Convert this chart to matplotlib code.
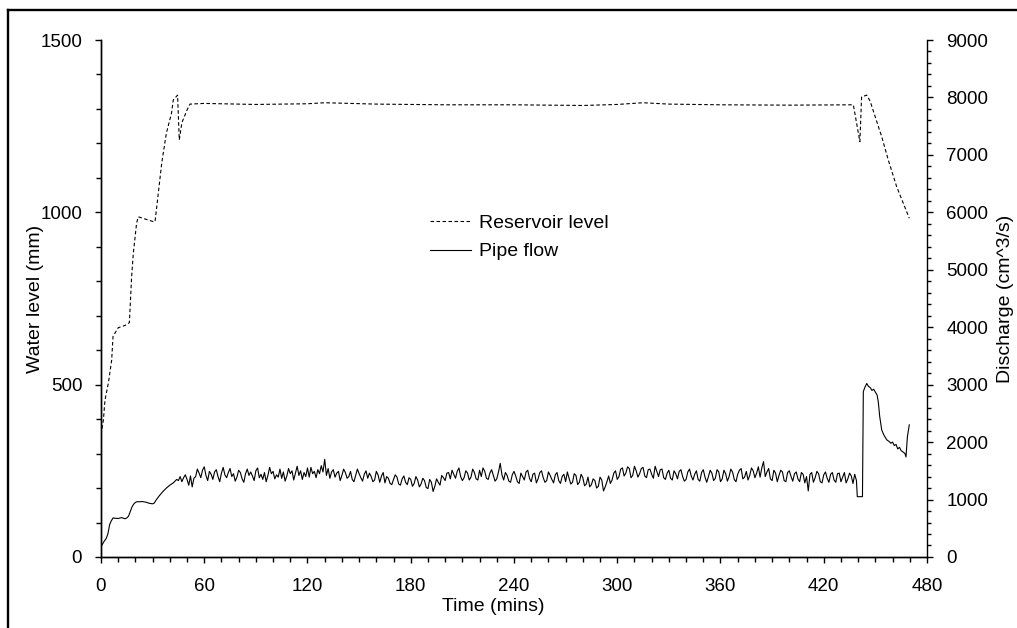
import matplotlib
matplotlib.use("Agg")
import matplotlib.pyplot as plt
from matplotlib.lines import Line2D
from matplotlib.ticker import MultipleLocator
import numpy as np

plt.rcParams['font.family'] = ['Liberation Sans', 'DejaVu Sans']
plt.rcParams['font.size'] = 13.5

# reservoir level (mm), left axis
res_t = [0, 1.4, 2.3, 4.3, 6.2, 7.0, 10, 14, 16.5, 17.8, 18.8, 20.7, 21.7, 26, 30.4,
         31.4, 32.4, 35.3, 38, 41, 42, 44.5, 45.5, 47, 50, 51.7, 60, 90, 120, 130,
         160, 200, 240, 280, 300, 315, 330, 360, 400, 437.2, 441, 442, 445, 447,
         453.7, 457.5, 462.4, 469.7]
res_level = [355, 397, 455, 505, 571, 640, 665, 672, 680, 813, 882, 969, 987, 980, 973,
             973, 1016, 1143, 1230, 1288, 1326, 1340, 1210, 1260, 1297, 1314, 1316, 1313, 1315, 1318,
             1314, 1312, 1312, 1310, 1313, 1318, 1314, 1312, 1311, 1312, 1205, 1335, 1340, 1322,
             1219, 1152, 1074, 983]

# pipe flow (cm^3/s), right axis - filling stage
fill_t = [0, 1, 2, 3, 4, 5, 6, 7, 8, 10, 12, 14, 15, 16, 17, 18, 19, 20, 21, 22, 24, 26,
          28, 30, 31, 32, 34, 36, 38, 40, 42, 43, 44]
fill_q = [180, 230, 280, 320, 400, 560, 630, 680, 675, 670, 685, 665, 680, 710, 790, 870,
          920, 950, 963, 960, 965, 955, 935, 925, 940, 990, 1070, 1140, 1200, 1250, 1290, 1320, 1350]

# pipe flow, steady stage, one reading per minute from t = 45 to 439
steady_t = np.arange(45, 440)
steady_q = [
    1330, 1400, 1310, 1380, 1430, 1350, 1250, 1410, 1220, 1370,
    1400, 1530, 1460, 1380, 1510, 1570, 1420, 1330, 1490, 1440,
    1350, 1480, 1520, 1400, 1310, 1460, 1560, 1430, 1380, 1470,
    1540, 1400, 1450, 1320, 1390, 1510, 1470, 1360, 1300, 1450,
    1530, 1420, 1480, 1410, 1330, 1500, 1550, 1380, 1440, 1350,
    1470, 1310, 1420, 1560, 1450, 1490, 1360, 1430, 1390, 1530,
    1370, 1480, 1320, 1410, 1540, 1450, 1500, 1340, 1460, 1580,
    1420, 1500, 1350, 1470, 1400, 1550, 1390, 1560, 1450, 1490,
    1380, 1520, 1450, 1590, 1480, 1700, 1420, 1540, 1370, 1480,
    1520, 1390, 1460, 1490, 1330, 1420, 1530, 1470, 1370, 1400,
    1490, 1350, 1310, 1420, 1530, 1450, 1380, 1320, 1440, 1500,
    1370, 1460, 1400, 1310, 1340, 1490, 1430, 1300, 1410, 1470,
    1290, 1400, 1370, 1280, 1260, 1350, 1430, 1390, 1270, 1250,
    1360, 1410, 1300, 1260, 1380, 1350, 1230, 1280, 1400, 1340,
    1220, 1270, 1370, 1330, 1210, 1190, 1350, 1300, 1140, 1230,
    1360, 1300, 1250, 1420, 1380, 1330, 1460, 1470, 1360, 1510,
    1440, 1370, 1490, 1550, 1400, 1330, 1380, 1500, 1460, 1340,
    1390, 1530, 1470, 1360, 1340, 1510, 1400, 1550, 1490, 1370,
    1350, 1460, 1520, 1420, 1320, 1360, 1480, 1630, 1430, 1340,
    1470, 1420, 1320, 1300, 1430, 1490, 1410, 1310, 1280, 1460,
    1400, 1340, 1480, 1510, 1370, 1310, 1440, 1460, 1290, 1360,
    1470, 1500, 1380, 1300, 1330, 1480, 1420, 1350, 1290, 1430,
    1470, 1330, 1280, 1400, 1440, 1310, 1480, 1370, 1270, 1300,
    1450, 1420, 1260, 1300, 1440, 1380, 1240, 1270, 1390, 1220,
    1260, 1360, 1330, 1200, 1230, 1390, 1340, 1150, 1220, 1310,
    1410, 1280, 1340, 1460, 1500, 1350, 1400, 1530, 1550, 1410,
    1460, 1570, 1540, 1380, 1420, 1580, 1500, 1390, 1450, 1540,
    1560, 1410, 1380, 1520, 1530, 1440, 1370, 1580, 1490, 1400,
    1520, 1530, 1380, 1350, 1460, 1510, 1370, 1340, 1500, 1450,
    1360, 1490, 1520, 1400, 1320, 1350, 1480, 1530, 1410, 1340,
    1440, 1500, 1350, 1320, 1470, 1520, 1390, 1300, 1400, 1510,
    1460, 1330, 1370, 1520, 1480, 1310, 1360, 1510, 1450, 1320,
    1400, 1530, 1480, 1350, 1310, 1440, 1510, 1540, 1360, 1390,
    1490, 1340, 1420, 1550, 1500, 1380, 1460, 1570, 1390, 1550,
    1660, 1400, 1480, 1540, 1360, 1330, 1510, 1460, 1310, 1420,
    1510, 1480, 1330, 1310, 1470, 1500, 1400, 1320, 1450, 1480,
    1360, 1310, 1470, 1440, 1290, 1400, 1150, 1440, 1470, 1300,
    1380, 1490, 1450, 1310, 1290, 1430, 1480, 1370, 1300, 1440,
    1470, 1340, 1300, 1450, 1460, 1310, 1390, 1470, 1290, 1360,
    1460, 1410, 1280, 1440, 1330,
]

# pipe flow, draining stage
drain_t = [439.5, 442.5, 443, 444, 445, 446, 447, 448, 449, 450, 451, 451.7, 452.5, 453.7,
           455, 456.6, 458, 459, 460, 461, 462, 463, 464, 465, 466, 467.2, 467.8, 468.6, 469.7]
drain_q = [1050, 1050, 2880, 2960, 3020, 2970, 2950, 2900, 2920, 2870, 2820, 2700, 2450, 2210,
           2120, 2040, 2010, 1980, 2000, 1940, 1960, 1880, 1910, 1850, 1830, 1800, 1740, 2090, 2300]

flow_t = np.concatenate([fill_t, steady_t, drain_t])
flow_q = np.concatenate([fill_q, steady_q, drain_q])

fig = plt.figure(figsize=(10.17, 6.28), dpi=100)
ax1 = fig.add_axes([0.0993, 0.1131, 0.8122, 0.8232])
ax2 = ax1.twinx()

l1, = ax1.plot(res_t, res_level, color='black', lw=0.8,
               linestyle=(0, (3.2, 2.2)), label='Reservoir level')
l2, = ax2.plot(flow_t, flow_q, color='black', lw=0.8, label='Pipe flow')

ax1.set_xlim(0, 480)
ax1.set_ylim(0, 1500)
ax2.set_ylim(0, 9000)

ax1.xaxis.set_major_locator(MultipleLocator(60))
ax1.xaxis.set_minor_locator(MultipleLocator(10))
ax1.yaxis.set_major_locator(MultipleLocator(500))
ax1.yaxis.set_minor_locator(MultipleLocator(100))
ax2.yaxis.set_major_locator(MultipleLocator(1000))
ax2.yaxis.set_minor_locator(MultipleLocator(200))

for ax in (ax1, ax2):
    ax.spines['top'].set_visible(False)
    for s in ax.spines.values():
        s.set_linewidth(1.0)
ax1.spines['right'].set_visible(False)

ax1.tick_params(axis='both', which='major', direction='out', length=4.5, width=1.0)
ax1.tick_params(axis='both', which='minor', direction='out', length=3.5, width=1.0)
ax1.tick_params(axis='x', which='major', pad=10.5)
ax1.tick_params(axis='y', which='major', pad=9)
ax2.tick_params(axis='y', which='major', direction='out', length=4.5, width=1.0, pad=9.5)
ax2.tick_params(axis='y', which='minor', direction='out', length=3.0, width=1.0)

ax1.set_xlabel('Time (mins)', fontsize=14)
ax1.set_ylabel('Water level (mm)', fontsize=14)
ax2.set_ylabel('Discharge (cm^3/s)', fontsize=14)
ax1.xaxis.set_label_coords(0.4746, -0.079)
ax1.yaxis.set_label_coords(-0.069, 0.5)
ax2.yaxis.set_label_coords(1.0847, 0.5)

ax1.legend([l1, l2], ['Reservoir level', 'Pipe flow'], loc='upper left',
           bbox_to_anchor=(0.398, 0.663), frameon=False, borderpad=0, borderaxespad=0,
           handlelength=2.1, handletextpad=0.45, labelspacing=0.56, fontsize=14)

# outer frame of the figure
fig.add_artist(Line2D([8 / 1017, 8 / 1017], [-0.1, 1 - 10 / 628], color='black', lw=1.7,
                      transform=fig.transFigure))
fig.add_artist(Line2D([8 / 1017, 1.1], [1 - 10 / 628, 1 - 10 / 628], color='black', lw=1.7,
                      transform=fig.transFigure))

fig.savefig('out.png', dpi=100)
